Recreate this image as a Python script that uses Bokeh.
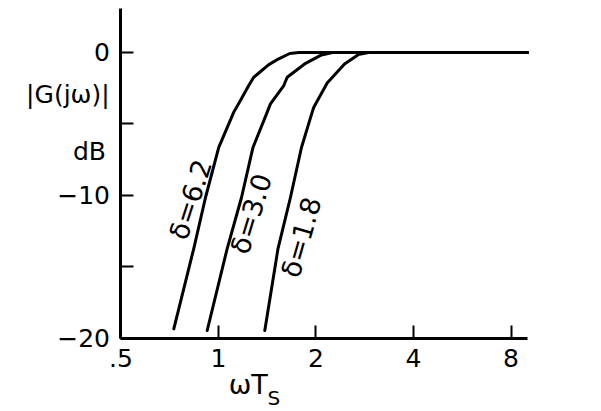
import math
from bokeh.plotting import figure
from bokeh.models import Range1d, FixedTicker, Label, LinearAxis, LogAxis
from bokeh.embed import file_html
from bokeh.resources import INLINE

# ---- data ----
x_d62 = [0.728, 0.839, 0.912, 1.002, 1.115, 1.169, 1.240, 1.285, 1.430, 1.535, 1.660, 1.770, 9.0]
y_d62 = [-19.32, -13.71, -10.14, -6.64, -4.17, -3.36, -2.31, -1.73, -0.85, -0.44, -0.07, 0.0, 0.0]

x_d30 = [0.923, 1.064, 1.178, 1.278, 1.414, 1.447, 1.591, 1.630, 1.845, 2.080, 2.249, 9.0]
y_d30 = [-19.44, -13.71, -10.14, -6.64, -4.17, -3.59, -2.31, -1.73, -0.80, -0.17, 0.0, 0.0]

x_d18 = [1.390, 1.527, 1.668, 1.804, 1.947, 1.969, 2.166, 2.450, 2.700, 2.905, 9.0]
y_d18 = [-19.44, -13.71, -10.14, -6.64, -4.17, -3.83, -2.13, -0.80, -0.15, 0.0, 0.0]

curve_labels = ["δ=6.2", "δ=3.0", "δ=1.8"]
x_ticks = [0.5, 1, 2, 4, 8]
x_tick_labels = [".5", "1", "2", "4", "8"]
y_ticks = [-20, -15, -10, -5, 0]
y_tick_labels = ["−20", "", "−10", "", "0"]
x_axis_span = (0.5, 9.0)
y_axis_span = (-20, 3.08)

# ---- layout / style ----
FONT = "DejaVu Sans"
FS = "25px"

p = figure(width=601, height=411, x_axis_type="log",
           x_axis_location=None, y_axis_location=None,
           x_range=Range1d(0.2124, 15.22), y_range=Range1d(-25.105, 3.636),
           output_backend="svg", toolbar_location=None,
           min_border=0)
p.outline_line_color = None
p.background_fill_color = "white"
p.border_fill_color = "white"
p.grid.visible = False
p.grid.grid_line_color = None

xaxis = LogAxis(fixed_location=y_axis_span[0], bounds=x_axis_span,
                ticker=FixedTicker(ticks=x_ticks))
yaxis = LinearAxis(fixed_location=x_axis_span[0], bounds=y_axis_span,
                   ticker=FixedTicker(ticks=y_ticks))
xaxis.major_label_overrides = {t: l for t, l in zip(x_ticks, x_tick_labels)}
yaxis.major_label_overrides = {t: l for t, l in zip(y_ticks, y_tick_labels)}

for ax in (xaxis, yaxis):
    ax.axis_line_width = 3
    ax.axis_line_color = "black"
    ax.major_tick_line_width = 2
    ax.major_tick_line_color = "black"
    ax.major_tick_in = 13
    ax.major_tick_out = 0
    ax.minor_tick_line_color = None
    ax.major_label_text_font = FONT
    ax.major_label_text_font_size = FS
    ax.major_label_text_color = "black"
    ax.major_label_standoff = 11

p.add_layout(xaxis, "below")
p.add_layout(yaxis, "left")

for xs, ys in ((x_d62, y_d62), (x_d30, y_d30), (x_d18, y_d18)):
    p.line(xs, ys, line_width=3, line_color="black", line_join="round", line_cap="round")

# curve labels (positions in data space)
label_pos = [(0.8196, -10.28, 72), (1.2627, -11.28, 73), (1.8014, -12.92, 74)]
for txt, (lx, ly, ang) in zip(curve_labels, label_pos):
    p.add_layout(Label(x=lx, y=ly, text=txt, angle=math.radians(ang),
                       text_align="center", text_baseline="middle",
                       text_font=FONT, text_font_size="27px", text_color="black"))

# y-axis title (two horizontal lines left of the axis)
p.add_layout(Label(x=0.343, y=-2.95, text="|G(jω)|", text_align="center",
                   text_baseline="middle", text_font=FONT, text_font_size=FS,
                   text_color="black"))
p.add_layout(Label(x=0.3996, y=-6.9, text="dB", text_align="center",
                   text_baseline="middle", text_font=FONT, text_font_size=FS,
                   text_color="black"))

# x-axis title ωT with subscript S
p.add_layout(Label(x=1.075, y=-23.2, text="ωT", text_align="left",
                   text_baseline="alphabetic", text_font=FONT, text_font_size="27px",
                   text_color="black"))
p.add_layout(Label(x=1.417, y=-24.13, text="S", text_align="left",
                   text_baseline="alphabetic", text_font=FONT, text_font_size="20px",
                   text_color="black"))

open("out.html", "w").write(file_html(p, INLINE))
